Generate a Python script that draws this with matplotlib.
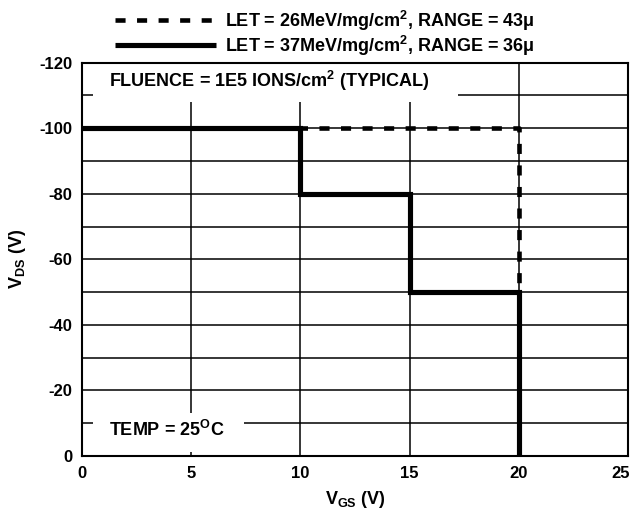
import matplotlib
matplotlib.use("Agg")
import matplotlib.pyplot as plt
import matplotlib.transforms as mtransforms
from matplotlib.patches import Rectangle

# Data
x_let26 = [0, 20, 20]
y_let26 = [-100, -100, 0]
x_let37 = [0, 10, 10, 15, 15, 20, 20]
y_let37 = [-100, -100, -80, -80, -50, -50, 0]
x_ticks = [0, 5, 10, 15, 20, 25]
y_ticks = [0, -20, -40, -60, -80, -100, -120]
y_grid = [-10, -20, -30, -40, -50, -60, -70, -80, -90, -100, -110]
label26 = r"LET = 26MeV/mg/cm$^{\mathbf{2}}$, RANGE = 43$\mathbf{\mu}$"
label37 = r"LET = 37MeV/mg/cm$^{\mathbf{2}}$, RANGE = 36$\mathbf{\mu}$"

plt.rcParams['font.family'] = ['Liberation Sans', 'DejaVu Sans']
plt.rcParams['font.weight'] = 'bold'
plt.rcParams['axes.unicode_minus'] = False
plt.rcParams['mathtext.fontset'] = 'custom'
plt.rcParams['mathtext.rm'] = 'Liberation Sans:bold'
plt.rcParams['mathtext.bf'] = 'Liberation Sans:bold'
plt.rcParams['mathtext.it'] = 'Liberation Sans:bold'
plt.rcParams['mathtext.default'] = 'bf'

fig = plt.figure(figsize=(6.32, 5.12), dpi=100)
ax = fig.add_axes([82/632, 1-456/512, 546/632, 393.3/512])

ax.set_xlim(0, 25)
ax.set_ylim(0, -120)

for v in x_ticks[1:-1]:
    ax.axvline(v, color='black', lw=1.1, zorder=1)
for v in y_grid:
    ax.axhline(v, color='black', lw=1.1, zorder=1)

l26, = ax.plot(x_let26, y_let26, color='black', lw=3.3, ls=(0, (2.2, 2.5)),
               dash_capstyle='butt', zorder=3, label=label26)
l37, = ax.plot(x_let37, y_let37, color='black', lw=3.7, solid_capstyle='butt',
               solid_joinstyle='miter', zorder=4, label=label37)

ax.set_xticks(x_ticks)
ax.set_yticks(y_ticks)
ax.tick_params(length=0, labelsize=12, pad=7)
for lab in ax.get_xticklabels() + ax.get_yticklabels():
    lab.set_fontweight('bold')
# keep the last x tick label inside the figure, as in the reference
last = ax.get_xticklabels()[-1]
last.set_transform(last.get_transform() +
                   mtransforms.ScaledTranslation(-7/100, 0, fig.dpi_scale_trans))
for s in ax.spines.values():
    s.set_linewidth(1.5)
    s.set_zorder(6)

# white annotation backgrounds (axes fraction)
ax.add_patch(Rectangle((0.0196, 0.9008), 0.6684, 0.0992, transform=ax.transAxes,
                       facecolor='white', edgecolor='none', zorder=2))
ax.add_patch(Rectangle((0.0196, 0.011), 0.2777, 0.0976, transform=ax.transAxes,
                       facecolor='white', edgecolor='none', zorder=2))

ax.text(0.05, 0.9375, r"FLUENCE = 1E5 IONS/cm$^{\mathbf{2}}$ (TYPICAL)", fontsize=13,
        fontweight='bold', va='baseline', ha='left', zorder=5, transform=ax.transAxes)
ax.text(0.05, 0.0509, r"TEMP = 25$^{\mathbf{O}}$C", fontsize=13,
        fontweight='bold', va='baseline', ha='left', zorder=5, transform=ax.transAxes)

ax.set_xlabel(r"V$_{\mathbf{GS}}$ (V)", fontsize=13, fontweight='bold', labelpad=6)
ax.set_ylabel(r"V$_{\mathbf{DS}}$ (V)", fontsize=13, fontweight='bold', labelpad=8)

leg = fig.legend(handles=[l26, l37], loc='upper left', bbox_to_anchor=(115/632, 0.983),
                 frameon=False, fontsize=13, handlelength=5.6, handletextpad=0.5,
                 labelspacing=0.05, borderpad=0, borderaxespad=0)

fig.savefig("out.png", dpi=100)
